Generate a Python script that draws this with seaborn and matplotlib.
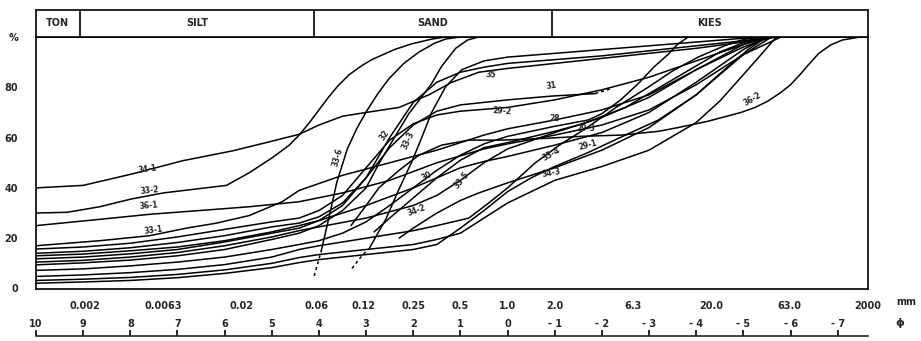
import matplotlib
matplotlib.use("Agg")
import numpy as np
import pandas as pd
import matplotlib.pyplot as plt
import seaborn as sns

# grain size curves, x in phi units, y in cumulative percent
phi_34_1 = [10, 9, 7.95, 6.89, 5.84, 5.12, 4.42, 4.0, 3.5, 3.0, 2.3, 1.67, 1.18, 0.61, 0, -1, -2, -3, -4, -5, -5.7]
pct_34_1 = [40, 41, 45.6, 50.8, 54.7, 58, 61.3, 65, 68.5, 70, 72, 77, 82, 86, 87.5, 89.5, 91.5, 93.5, 95.5, 98, 100]

phi_33_2 = [10, 9.34, 8.65, 8.0, 7.3, 6.5, 5.96, 5.48, 4.99, 4.63, 4.42, 4.2, 4.0, 3.8, 3.6, 3.36, 3.1, 2.88, 2.4, 2.03, 1.6, 1.31]
pct_33_2 = [30, 30.3, 32.5, 35.5, 38, 39.8, 41, 46, 52, 57, 61, 66, 71, 76, 80.5, 85, 88.5, 91, 95, 97.3, 99.2, 100]

phi_36_1 = [10, 8.65, 7.59, 6.53, 5.48, 4.42, 3.5, 2.5, 1.5, 0.5, 0, -1, -2, -3, -4, -5, -5.8]
pct_36_1 = [25, 27.5, 29.5, 31, 32.5, 34.5, 38, 43, 50, 55.5, 57.5, 61, 65, 71, 81, 93, 100]

phi_33_1 = [10, 8.65, 7.59, 6.81, 6.17, 5.48, 4.78, 4.42, 3.5, 2.5, 1.5, 0.5, 0, -1, -2, -3, -4, -5, -5.6]
pct_33_1 = [17, 19, 21, 24, 26, 29, 34.5, 39, 45, 50, 55, 61, 63.5, 67, 71, 77, 87, 96, 100]

phi_29_2 = [10, 9, 8, 7, 6, 5, 4.42, 4, 3.5, 3, 2.5, 2, 1.5, 1, 0, -1, -2, -3, -4, -5, -5.6]
pct_29_2 = [15.7, 16.5, 18, 20.5, 23.5, 26.5, 28, 31, 37, 48, 59, 65.5, 69, 70.5, 72, 75, 79, 84, 90.5, 97, 100]

phi_31 = [10, 9, 8, 7, 6, 5, 4.42, 4, 3.5, 3, 2.5, 2, 1.5, 1, 0, -0.93, -1.86]
pct_31 = [14, 14.8, 16.2, 18.3, 21, 24.5, 26, 28.5, 34, 44, 56, 65, 70.5, 73, 75, 76.5, 77.5]

phi_30 = [10, 9, 8, 7, 6, 5, 4.42, 4, 3, 2, 1.5, 1, 0.5, 0, -1, -2, -3, -4, -5, -5.5]
pct_30 = [13, 13.7, 15, 16.5, 19, 22.5, 25, 27, 33, 40, 44, 48, 50.5, 52.5, 57, 62, 70, 82, 95, 100]

phi_35 = [10, 9, 8, 7, 6, 5, 4.42, 4, 3.5, 3, 2.5, 2, 1.5, 1, 0.5, 0, -1, -2, -3, -4, -5, -5.7]
pct_35 = [11.8, 12.5, 13.8, 15.5, 18.5, 22, 24, 27, 33, 44, 60, 74, 82, 86, 88, 89.5, 91, 92.5, 94.5, 96.5, 98.5, 100]

phi_33_5 = [10, 9, 8, 7, 6, 5, 4.42, 4, 3, 2, 1.5, 1, 0.5, 0, -1, -2, -3, -4, -5, -5.4]
pct_33_5 = [10.5, 11.2, 12.5, 14.3, 17, 20.5, 23, 24.5, 28, 33, 37, 43, 50, 55.5, 62, 68, 76, 87, 97, 100]

phi_32 = [10, 9, 8, 7, 6, 5, 4.42, 4, 3.5, 3.0, 2.73, 2.4, 2.09, 1.85, 1.61, 1.40, 1.10, 0.85, 0.61]
pct_32 = [9.4, 10.2, 11.3, 13, 15.5, 19.5, 22, 25, 31, 40, 49.6, 60, 69.6, 75.5, 81.5, 88.3, 95.5, 98.8, 100]

phi_28 = [10, 9, 8, 7, 6, 5, 4.42, 4, 3.5, 3, 2.5, 2, 1.5, 1, 0.5, 0, -1, -1.71, -2.0, -2.4, -2.8, -3.1, -3.4, -3.6, -3.83]
pct_28 = [7.2, 7.8, 9, 10.5, 12.5, 15.5, 17.5, 19, 22, 26.5, 33, 40, 47, 53, 57.5, 60.5, 64.5, 67, 69.5, 75, 82, 88, 93, 97, 100]

phi_33_4 = [10, 9, 8, 7, 6, 5, 4.42, 4, 3, 2, 1.5, 0.82, 0.4, 0, -0.59, -1.1, -1.65, -2.3, -2.98, -3.5, -4.04, -4.6, -5, -5.3]
pct_33_4 = [4.8, 5.4, 6.3, 7.6, 9.5, 12.5, 15.5, 17, 20, 23, 25, 28, 34, 40, 50, 57, 63.5, 72, 80, 86.5, 92, 96.5, 99, 100]

phi_34_3 = [10, 9, 8, 7, 6, 5, 4.42, 4, 3, 2, 1.5, 1, 0.5, 0, -0.5, -1, -2, -3, -4, -4.5, -5, -5.4, -5.7]
pct_34_3 = [3.2, 3.7, 4.4, 5.6, 7.4, 10, 12.3, 13.5, 15.5, 17.5, 19.5, 22, 28, 34, 38.5, 43, 48.5, 55, 66, 74.5, 85, 93.5, 100]

phi_29_1 = [10, 9, 8, 7, 6, 5, 4.42, 4, 3, 2, 1.5, 1, 0.5, 0, -0.5, -1, -1.7, -2.5, -3.2, -4.0, -4.6, -5.1, -5.5]
pct_29_1 = [2.1, 2.6, 3.2, 4.3, 6, 8.3, 10.3, 11.5, 13.5, 15.5, 17.5, 24, 31, 38.5, 44, 48.5, 54, 61, 67, 77, 87, 95, 100]

phi_36_2 = [3.32, 3.0, 2.73, 2.3, 1.88, 1.4, 0.82, 0.13, -0.8, -1.56, -2.41, -3.2, -3.62, -4.25, -4.95, -5.25, -5.52, -5.8, -6.0, -6.2, -6.36, -6.6, -6.85, -7.1, -7.48]
pct_36_2 = [25, 33, 40, 47, 53, 57, 59, 59, 59.7, 60.5, 61, 62.5, 64, 66.5, 70, 72, 74.5, 78, 81, 85, 88.5, 93.5, 96.8, 98.8, 100]

phi_29_3 = [2.83, 2.5, 2, 1.5, 1, 0.5, 0, -1, -1.6, -2.5, -3.5, -4.5, -5.3]
pct_29_3 = [22.5, 28, 36, 44, 51, 56, 58, 62.5, 65.5, 72, 83, 94, 100]

phi_34_2 = [2.30, 2, 1.5, 1, 0.61, 0, -1, -2, -3, -4, -5, -5.6]
pct_34_2 = [20, 24, 30, 35, 38, 42, 48, 55, 64, 77, 93, 100]

phi_33_6 = [3.95, 3.78, 3.62, 3.40, 3.2, 3.0, 2.75, 2.52, 2.2, 1.88, 1.55, 1.31, 1.0]
pct_33_6 = [15, 28.8, 42.3, 55.4, 63.5, 70.2, 77.5, 83.3, 89.5, 94, 97.5, 99.2, 100]

phi_33_3 = [2.94, 2.58, 2.30, 2.03, 1.82, 1.61, 1.31, 0.97, 0.5, 0, -1, -2, -3, -4, -5, -5.6]
pct_33_3 = [15.7, 27.6, 39.6, 50.4, 60, 70, 80.3, 87, 90.5, 92, 93.5, 95, 96.5, 98, 99.5, 100]

# dashed (estimated) parts
phi_33_6_d = [4.10, 3.95]
pct_33_6_d = [5, 15]
phi_33_3_d = [3.30, 3.09, 2.94]
pct_33_3_d = [8, 13, 15.7]
phi_31_d = [-1.86, -2.2]
pct_31_d = [77.5, 79.5]

# curve labels: text, phi, pct, rotation
label_text = ["34-1", "33-2", "36-1", "33-1", "33-6", "32", "33-3", "35", "31", "29-2",
              "30", "33-5", "34-2", "28", "29-3", "33-4", "29-1", "34-3", "36-2"]
label_phi = [7.63, 7.6, 7.6, 7.5, 3.6, 2.62, 2.1, 0.36, -0.93, 0.11,
             1.71, 0.97, 1.94, -1.0, -1.65, -0.93, -1.71, -0.93, -5.2]
label_pct = [47.5, 39, 33, 23, 52, 61, 59, 85, 80.5, 70.5,
             44.5, 43, 31, 67.5, 63.5, 53.5, 57, 46, 75.5]
label_rot = [8, 6, 5, 8, 74, 55, 65, -3, 8, -4, 30, 50, 20, 0, 0, 30, 15, 10, 30]

# axis scales
mm_values = [2 ** -10, 0.002, 0.0063, 0.02, 0.06, 0.12, 0.25, 0.5, 1.0, 2.0, 6.3, 20.0, 63.0, 200.0]
mm_labels = ["", "0.002", "0.0063", "0.02", "0.06", "0.12", "0.25", "0.5", "1.0", "2.0",
             "6.3", "20.0", "63.0", "2000"]
phi_ticks = [10, 9, 8, 7, 6, 5, 4, 3, 2, 1, 0, -1, -2, -3, -4, -5, -6, -7]
phi_labels = ["10", "9", "8", "7", "6", "5", "4", "3", "2", "1", "0",
              "- 1", "- 2", "- 3", "- 4", "- 5", "- 6", "- 7"]
pct_ticks = [0, 20, 40, 60, 80, 100]
pct_labels = ["0", "20", "40", "60", "80", "%"]

classes = ["TON", "SILT", "SAND", "KIES"]
class_edges = [10, 9.07, 4.1, -0.93, -7.64]

solid = [
    ("34-1", phi_34_1, pct_34_1), ("33-2", phi_33_2, pct_33_2), ("36-1", phi_36_1, pct_36_1),
    ("33-1", phi_33_1, pct_33_1), ("29-2", phi_29_2, pct_29_2), ("31", phi_31, pct_31),
    ("30", phi_30, pct_30), ("35", phi_35, pct_35), ("33-5", phi_33_5, pct_33_5),
    ("32", phi_32, pct_32), ("28", phi_28, pct_28), ("33-4", phi_33_4, pct_33_4),
    ("34-3", phi_34_3, pct_34_3), ("29-1", phi_29_1, pct_29_1), ("36-2", phi_36_2, pct_36_2),
    ("29-3", phi_29_3, pct_29_3), ("34-2", phi_34_2, pct_34_2), ("33-6", phi_33_6, pct_33_6),
    ("33-3", phi_33_3, pct_33_3),
]
dashed = [("33-6", phi_33_6_d, pct_33_6_d), ("33-3", phi_33_3_d, pct_33_3_d), ("31", phi_31_d, pct_31_d)]


def to_frame(curves):
    rows = []
    for name, ph, pc in curves:
        for a, b in zip(ph, pc):
            rows.append((name, a, b))
    return pd.DataFrame(rows, columns=["sample", "phi", "pct"])


sns.set_style("white")
plt.rcParams["font.family"] = ["DejaVu Sans"]
plt.rcParams["axes.linewidth"] = 1.2

W, H = 921, 341
fig = plt.figure(figsize=(W / 100, H / 100), dpi=100)

x0, x1 = 36, 868
y_top, y_bot = 37, 288.5
ax = fig.add_axes([x0 / W, 1 - y_bot / H, (x1 - x0) / W, (y_bot - y_top) / H])

sns.lineplot(data=to_frame(solid), x="phi", y="pct", units="sample", estimator=None,
             sort=False, color="black", lw=1.1, ax=ax)
sns.lineplot(data=to_frame(dashed), x="phi", y="pct", units="sample", estimator=None,
             sort=False, color="black", lw=1.1, linestyle=(0, (2, 2)), ax=ax)

ax.set_xlim(10, -7.64)
ax.set_ylim(0, 100)
ax.set_xlabel("")
ax.set_ylabel("")
for s in ax.spines.values():
    s.set_visible(True)
    s.set_color("black")
    s.set_linewidth(1.2)

ax.set_xticks(-np.log2(mm_values))
ax.set_xticklabels(mm_labels, fontweight="bold", fontsize=7)
ax.set_yticks(pct_ticks)
ax.set_yticklabels(pct_labels, fontweight="bold", fontsize=7)
ax.tick_params(axis="x", direction="out", length=6, width=1.2, pad=3, color="black")
ax.tick_params(axis="y", direction="out", length=7, width=1.2, pad=6, color="black")

for t, p, q, r in zip(label_text, label_phi, label_pct, label_rot):
    ax.text(p, q, t, fontsize=5.5, fontweight="bold", rotation=r,
            ha="center", va="center", rotation_mode="anchor")

fig.text(906 / W, 1 - 302 / H, "mm", fontsize=7, fontweight="bold", ha="center", va="center")

# header with grain classes
hax = fig.add_axes([x0 / W, 1 - y_top / H, (x1 - x0) / W, 27 / H])
hax.set_xlim(10, -7.64)
hax.set_ylim(0, 1)
hax.set_xticks([])
hax.set_yticks([])
for s in hax.spines.values():
    s.set_visible(True)
    s.set_color("black")
    s.set_linewidth(1.2)
for edge in class_edges[1:-1]:
    hax.axvline(edge, color="black", lw=1.2)
for i, c in enumerate(classes):
    hax.text((class_edges[i] + class_edges[i + 1]) / 2, 0.5, c, fontsize=7,
             fontweight="bold", ha="center", va="center")

# phi scale below
pax = fig.add_axes([x0 / W, 1 - 336 / H, (x1 - x0) / W, 0.5 / H])
pax.set_xlim(10, -7.64)
pax.set_yticks([])
for k in ["left", "right", "bottom"]:
    pax.spines[k].set_visible(False)
pax.spines["top"].set_linewidth(1.2)
pax.xaxis.tick_top()
pax.set_xticks(phi_ticks)
pax.set_xticklabels(phi_labels, fontweight="bold", fontsize=7)
pax.tick_params(axis="x", direction="out", length=4, width=1.2, pad=1, color="black")
fig.text(900 / W, 1 - 323 / H, "ϕ", fontsize=8, fontweight="bold", ha="center", va="center")

fig.savefig("out.png", dpi=100, facecolor="white")
